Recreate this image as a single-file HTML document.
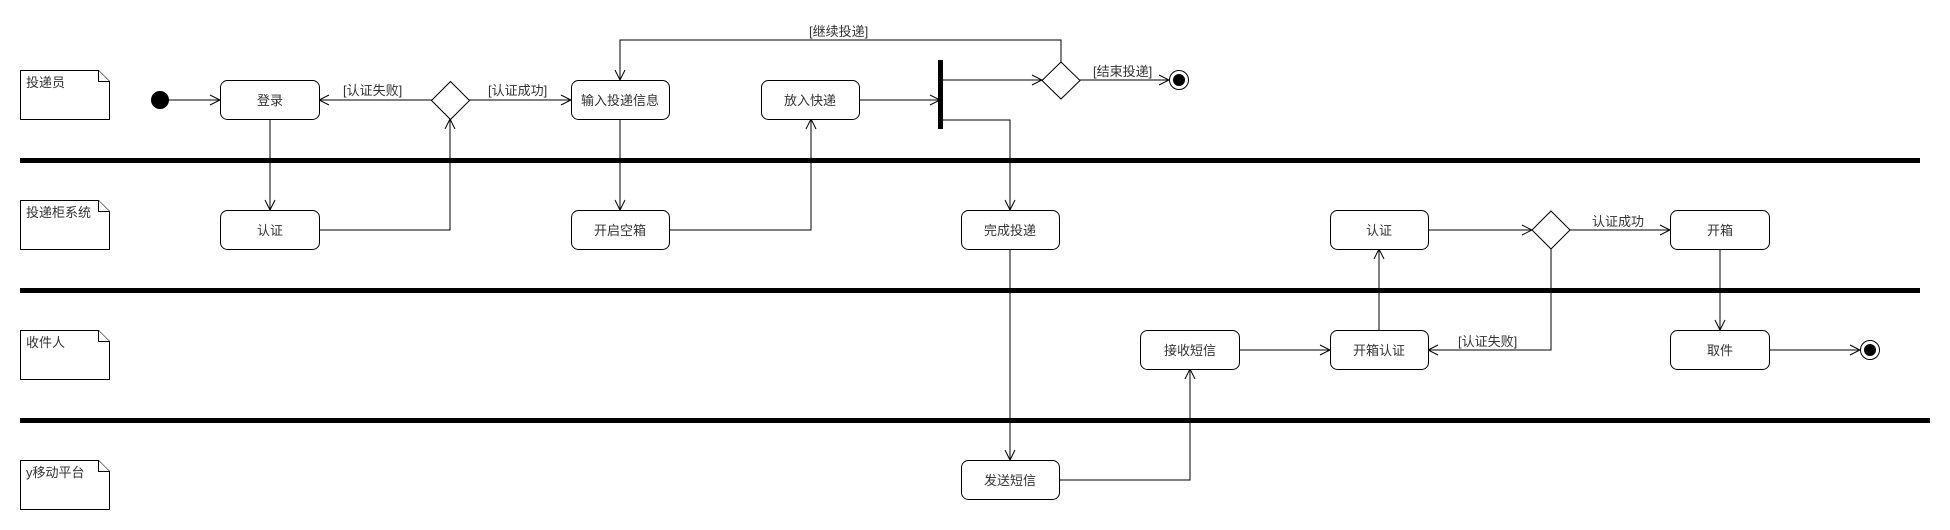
<!DOCTYPE html>
<html><head><meta charset="utf-8"><style>
html,body{margin:0;padding:0;background:#fff;}
svg{display:block}
text{font-family:"Liberation Sans","Noto Sans CJK SC",sans-serif;font-size:13px;fill:#333;}
</style></head><body>
<svg width="1950" height="530" viewBox="0 0 1950 530" xmlns="http://www.w3.org/2000/svg">
<defs>
<marker id="a" markerWidth="12" markerHeight="12" refX="11" refY="6" orient="auto" markerUnits="userSpaceOnUse">
<path d="M1,1 L11,6 L1,11" fill="none" stroke="#000" stroke-width="1"/>
</marker>
</defs>
<g fill="#000">
<rect x="20" y="158" width="1900" height="5"/>
<rect x="20" y="288" width="1900" height="5"/>
<rect x="20" y="418" width="1910" height="5"/>
</g>
<g fill="#fff" stroke="#000" stroke-width="1">
<path d="M20.5,70.5 H98.5 L109.5,81.5 V119.5 H20.5 Z"/><path d="M98.5,70.5 V81.5 H109.5"/>
<path d="M20.5,200.5 H98.5 L109.5,211.5 V249.5 H20.5 Z"/><path d="M98.5,200.5 V211.5 H109.5"/>
<path d="M20.5,330.5 H98.5 L109.5,341.5 V379.5 H20.5 Z"/><path d="M98.5,330.5 V341.5 H109.5"/>
<path d="M20.5,460.5 H98.5 L109.5,471.5 V509.5 H20.5 Z"/><path d="M98.5,460.5 V471.5 H109.5"/>
</g>
<text x="26" y="87">投递员</text>
<text x="26" y="217">投递柜系统</text>
<text x="26" y="347">收件人</text>
<text x="26" y="477">y移动平台</text>

<g fill="none" stroke="#000" stroke-width="1">
<line x1="160" y1="100" x2="220" y2="100" marker-end="url(#a)"/>
<line x1="432" y1="100" x2="319" y2="100" marker-end="url(#a)"/>
<line x1="469" y1="100" x2="571" y2="100" marker-end="url(#a)"/>
<line x1="270" y1="119" x2="270" y2="210" marker-end="url(#a)"/>
<polyline points="319,230 450,230 450,119" marker-end="url(#a)"/>
<line x1="620" y1="119" x2="620" y2="210" marker-end="url(#a)"/>
<polyline points="669,230 811,230 811,119" marker-end="url(#a)"/>
<line x1="859" y1="100" x2="940" y2="100" marker-end="url(#a)"/>
<line x1="942" y1="80" x2="1042" y2="80" marker-end="url(#a)"/>
<polyline points="942,120 1010,120 1010,210" marker-end="url(#a)"/>
<polyline points="1061,62 1061,40 620,40 620,80" marker-end="url(#a)"/>
<line x1="1079" y1="80" x2="1169" y2="80" marker-end="url(#a)"/>
<line x1="1010" y1="249" x2="1010" y2="460" marker-end="url(#a)"/>
<polyline points="1059,480 1190,480 1190,369" marker-end="url(#a)"/>
<line x1="1239" y1="350" x2="1330" y2="350" marker-end="url(#a)"/>
<line x1="1379" y1="330" x2="1379" y2="249" marker-end="url(#a)"/>
<line x1="1428" y1="230" x2="1532" y2="230" marker-end="url(#a)"/>
<line x1="1569" y1="230" x2="1670" y2="230" marker-end="url(#a)"/>
<polyline points="1551,249 1551,350 1428,350" marker-end="url(#a)"/>
<line x1="1720" y1="249" x2="1720" y2="330" marker-end="url(#a)"/>
<line x1="1769" y1="350" x2="1860" y2="350" marker-end="url(#a)"/>
</g>

<circle cx="160" cy="100" r="9" fill="#000"/>
<rect x="938" y="60" width="5" height="69" fill="#000"/>
<g fill="#fff" stroke="#000" stroke-width="1">
<polygon points="450.5,81.5 469.5,100.5 450.5,119.5 431.5,100.5"/>
<polygon points="1061,62 1080,80.5 1061,99 1042,80.5"/>
<polygon points="1551,211 1570,230 1551,249 1532,230"/>
<circle cx="1179" cy="80" r="9.5"/>
<circle cx="1870" cy="350" r="9.5"/>
</g>
<circle cx="1179" cy="80" r="6" fill="#000"/>
<circle cx="1870" cy="350" r="6" fill="#000"/>

<g fill="#fff" stroke="#000" stroke-width="1">
<rect x="220.5" y="80.5" width="99" height="39" rx="7"/>
<rect x="571.5" y="80.5" width="98" height="39" rx="7"/>
<rect x="761.5" y="80.5" width="98" height="39" rx="7"/>
<rect x="220.5" y="210.5" width="99" height="39" rx="7"/>
<rect x="571.5" y="210.5" width="98" height="39" rx="7"/>
<rect x="961.5" y="210.5" width="98" height="39" rx="7"/>
<rect x="1330.5" y="210.5" width="98" height="39" rx="7"/>
<rect x="1670.5" y="210.5" width="99" height="39" rx="7"/>
<rect x="1140.5" y="330.5" width="99" height="39" rx="7"/>
<rect x="1330.5" y="330.5" width="98" height="39" rx="7"/>
<rect x="1670.5" y="330.5" width="99" height="39" rx="7"/>
<rect x="961.5" y="460.5" width="98" height="39" rx="7"/>
</g>
<g text-anchor="middle">
<text x="270" y="105">登录</text>
<text x="620" y="105">输入投递信息</text>
<text x="810" y="105">放入快递</text>
<text x="270" y="235">认证</text>
<text x="620" y="235">开启空箱</text>
<text x="1010" y="235">完成投递</text>
<text x="1379" y="235">认证</text>
<text x="1720" y="235">开箱</text>
<text x="1190" y="355">接收短信</text>
<text x="1379" y="355">开箱认证</text>
<text x="1720" y="355">取件</text>
<text x="1010" y="485">发送短信</text>
</g>
<text x="343" y="95">[认证失败]</text>
<text x="488" y="95">[认证成功]</text>
<text x="809" y="36">[继续投递]</text>
<text x="1093" y="76">[结束投递]</text>
<text x="1592" y="226">认证成功</text>
<text x="1458" y="346">[认证失败]</text>
</svg>
</body></html>
